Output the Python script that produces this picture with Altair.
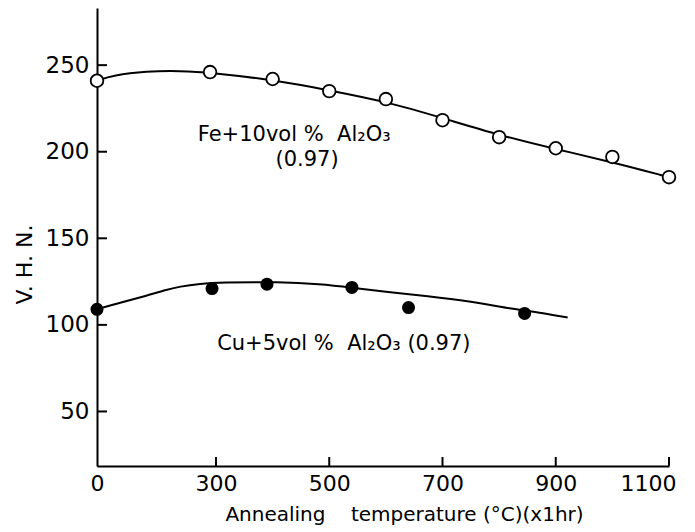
import altair as alt
import pandas as pd

# Fe + 10 vol% Al2O3 (open circles)
fe_temp = [0, 285, 400, 500, 600, 700, 800, 900, 1000, 1100]
fe_vhn = [241, 246, 242, 235, 230.4, 218.2, 208.4, 202, 197, 185.3]
# smooth curve drawn through Fe data
fe_curve_temp = [0, 40, 125, 210, 285, 400, 500, 600, 700, 800, 900, 1000, 1100]
fe_curve_vhn = [241, 244.2, 246.5, 246.7, 245.8, 241.5, 235.5, 229.0, 219.5, 209.5, 201.5, 194, 185.3]

# Cu + 5 vol% Al2O3 (filled circles)
cu_temp = [0, 290, 390, 540, 640, 845]
cu_vhn = [109, 121, 123.5, 121.6, 110, 106.6]
cu_curve_temp = [0, 60, 125, 170, 209, 260, 307, 413, 484, 538, 603, 674, 745, 827, 875, 921]
cu_curve_vhn = [109, 113.0, 116.8, 120.0, 122.2, 123.8, 124.6, 124.8, 123.5, 121.6, 119, 116.5, 113.8, 109, 107, 104.2]

x_ticks = [0, 300, 500, 700, 900, 1100]
y_ticks = [50, 100, 150, 200, 250]

NB = "\u00a0"
ann_x = [254, 405, 302]
ann_y = [206, 192, 85.4]
ann_text = ["Fe+10vol %" + NB * 2 + "Al\u2082O\u2083",
            "(0.97)",
            "Cu+5vol %" + NB * 2 + "Al\u2082O\u2083 (0.97)"]

W, H = 572, 458
FONT = "DejaVu Sans"

xscale = alt.Scale(domain=[0, 300, 1100], range=[0, 119, W], nice=False, zero=False)
yscale = alt.Scale(domain=[18.5, 283], nice=False, zero=False)

fe_pts = pd.DataFrame({"t": fe_temp, "v": fe_vhn})
fe_cur = pd.DataFrame({"t": fe_curve_temp, "v": fe_curve_vhn})
cu_pts = pd.DataFrame({"t": cu_temp, "v": cu_vhn})
cu_cur = pd.DataFrame({"t": cu_curve_temp, "v": cu_curve_vhn})
ann = pd.DataFrame({"t": ann_x, "v": ann_y, "label": ann_text})

xenc = alt.X("t:Q", scale=xscale,
             axis=alt.Axis(values=x_ticks, format="d", labelFlush=True, labelFlushOffset=7,
                           labelFont=FONT, labelFontSize=22, labelPadding=7,
                           title="Annealing" + NB * 4 + "temperature (\u00b0C)(x1hr)",
                           titleX=307, titleY=54, titleBaseline="alphabetic",
                           titleFont=FONT, titleFontSize=20, titleFontWeight="normal"))
yenc = alt.Y("v:Q", scale=yscale,
             axis=alt.Axis(values=y_ticks, format="d", labelFlush=False,
                           labelFont=FONT, labelFontSize=23, labelPadding=8,
                           title="V." + NB + "H." + NB + "N.", titleAngle=-90,
                           titleX=-73, titleY=256, titleAlign="center", titleBaseline="middle",
                           titleFont=FONT, titleFontSize=22, titleFontWeight="normal"))

fe_line = alt.Chart(fe_cur).mark_line(color="black", strokeWidth=2, interpolate="basis").encode(x=xenc, y=yenc)
cu_line = alt.Chart(cu_cur).mark_line(color="black", strokeWidth=2, interpolate="basis").encode(x="t:Q", y="v:Q")
fe_mark = alt.Chart(fe_pts).mark_point(shape="circle", filled=True, fill="white", stroke="black",
                                       strokeWidth=1.8, size=160, opacity=1).encode(x="t:Q", y="v:Q")
cu_mark = alt.Chart(cu_pts).mark_point(shape="circle", filled=True, color="black",
                                       size=170, opacity=1).encode(x="t:Q", y="v:Q")

text = alt.Chart(ann).mark_text(font=FONT, fontSize=21, color="black", align="left",
                                baseline="alphabetic").encode(
    x="t:Q", y="v:Q", text="label:N")

ytick_df = pd.DataFrame({"v": y_ticks})
ytk = alt.Chart(ytick_df).mark_rule(color="black", strokeWidth=2).encode(
    y="v:Q", x=alt.value(0), x2=alt.value(10))
xtick_df = pd.DataFrame({"t": x_ticks[1:]})
xtk = alt.Chart(xtick_df).mark_rule(color="black", strokeWidth=2).encode(
    x="t:Q", y=alt.value(H), y2=alt.value(H - 9))

chart = alt.layer(fe_line, cu_line, fe_mark, cu_mark, text, ytk, xtk).properties(
    width=W, height=H,
    autosize=alt.AutoSizeParams(type="none"),
    padding={"left": 97, "top": 8, "right": 26, "bottom": 66},
    background="white",
).configure_view(stroke=None).configure_axis(
    grid=False, ticks=False, domainColor="black", domainWidth=2,
    labelColor="black", titleColor="black",
)

chart.save("out.html", embed_options={"renderer": "svg", "actions": False})
